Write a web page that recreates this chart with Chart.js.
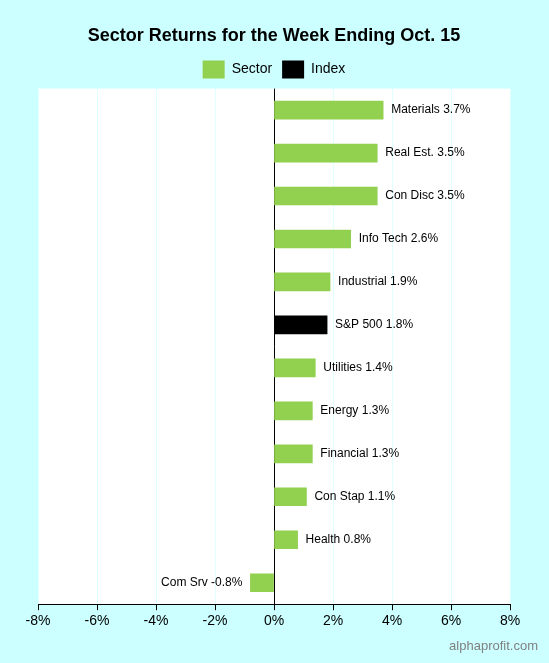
<!DOCTYPE html>
<html><head><meta charset="utf-8">
<script src="https://cdn.jsdelivr.net/npm/chart.js@4"></script>
<style>html,body{margin:0;padding:0;background:#ccffff;}#w{width:549px;height:663px;}</style>
</head><body><div id="w"><canvas id="c"></canvas></div>
<script>
const categories=["Materials","Real Est.","Con Disc","Info Tech","Industrial","S&P 500","Utilities","Energy","Financial","Con Stap","Health","Com Srv"];
const values=[3.7,3.5,3.5,2.6,1.9,1.8,1.4,1.3,1.3,1.1,0.8,-0.8];
const isIndex=[false,false,false,false,false,true,false,false,false,false,false,false];
const xTicks=[-8,-6,-4,-2,0,2,4,6,8];
const sectorData=values.map((v,i)=>isIndex[i]?null:v);
const indexData=values.map((v,i)=>isIndex[i]?v:null);
const bgPlugin={id:'bg',beforeDraw(ch){const a=ch.chartArea,c=ch.ctx;c.save();c.fillStyle='#ffffff';c.fillRect(a.left,a.top,a.right-a.left,a.bottom-a.top);c.restore();}};
const lblPlugin={id:'lbl',afterDatasetsDraw(ch){const c=ch.ctx,x=ch.scales.x,y=ch.scales.y;c.save();c.font='12px "Liberation Sans", Arial';c.fillStyle='#000';c.textBaseline='middle';
categories.forEach((cat,i)=>{const v=values[i];const t=cat+' '+v.toFixed(1)+'%';const py=y.getPixelForValue(i);
if(v>=0){c.textAlign='left';c.fillText(t,x.getPixelForValue(v)+8,py);}else{c.textAlign='right';c.fillText(t,x.getPixelForValue(v)-8,py);}});
c.font='13px "Liberation Sans", Arial';c.fillStyle='#808080';c.textAlign='right';c.fillText('alphaprofit.com',538,646);c.restore();}};
new Chart(document.getElementById('c'),{type:'bar',
data:{labels:categories,datasets:[
{label:'Sector',data:sectorData,backgroundColor:'#92d050',barThickness:18},
{label:'Index',data:indexData,backgroundColor:'#000000',barThickness:18}]},
options:{indexAxis:'y',responsive:true,maintainAspectRatio:false,animation:false,
layout:{padding:{left:38,right:39,top:10,bottom:30}},
plugins:{title:{display:true,text:'Sector Returns for the Week Ending Oct. 15',color:'#000',font:{size:18,weight:'bold',family:'"Liberation Sans", Arial'},padding:{top:15,bottom:4}},
legend:{labels:{boxWidth:22,boxHeight:18,padding:10,color:'#000',font:{size:14,family:'"Liberation Sans", Arial'}}},tooltip:{enabled:false}},
scales:{y:{stacked:true,display:false},
x:{stacked:true,min:-8,max:8,afterBuildTicks(s){s.ticks=xTicks.map(v=>({value:v}));},
ticks:{color:'#000',font:{size:14,family:'"Liberation Sans", Arial'},callback:v=>v+'%'},
grid:{color:ctx=>ctx.tick&&ctx.tick.value===0?'#000':'#e0ffff',drawTicks:true,tickColor:'#000',tickLength:6},
border:{color:'#000'}}}},
plugins:[bgPlugin,lblPlugin]});
</script></body></html>
